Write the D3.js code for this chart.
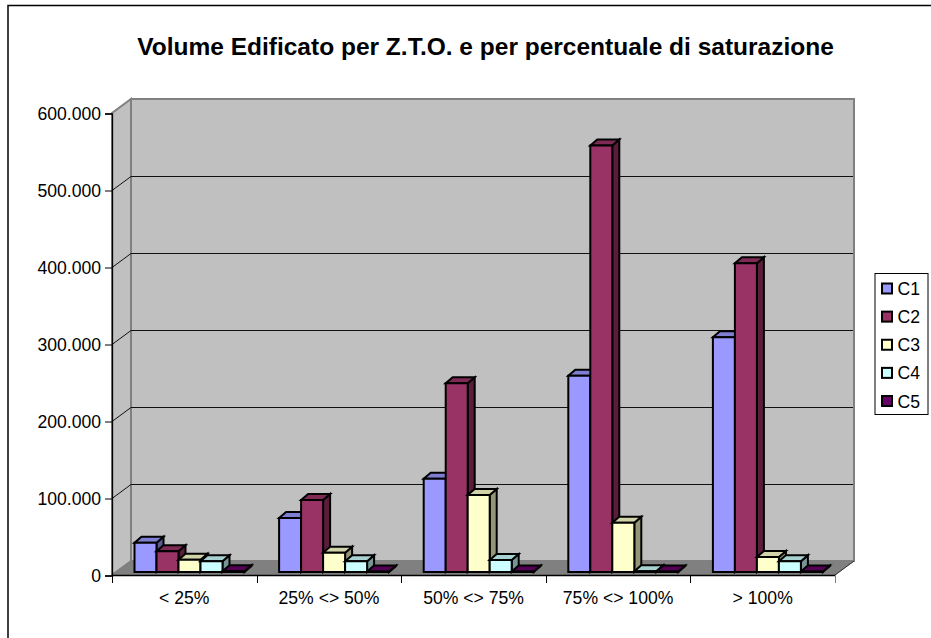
<!DOCTYPE html>
<html><head><meta charset="utf-8">
<script src="https://cdn.jsdelivr.net/npm/d3@7"></script>
<style>html,body{margin:0;padding:0;background:#fff;overflow:hidden}svg{display:block}text{font-family:"Liberation Sans",Arial,sans-serif;fill:#000}</style>
</head><body><svg id="c" width="931" height="638"></svg>
<script>
const titleText = "Volume Edificato per Z.T.O. e per percentuale di saturazione";
const categories = ["< 25%","25% <> 50%","50% <> 75%","75% <> 100%","> 100%"];
const seriesNames = ["C1","C2","C3","C4","C5"];
const seriesColors = ["#9999FF","#993366","#FFFFCC","#CCFFFF","#660066"];
const C1 = [38000,70000,121000,255000,305000];
const C2 = [27000,93500,245000,554000,401000];
const C3 = [16000,25000,100000,64000,19500];
const C4 = [14000,14000,15500,1000,14000];
const C5 = [1000,500,500,500,500];
const seriesValues = [C1,C2,C3,C4,C5];
const tickValues = [0,100000,200000,300000,400000,500000,600000];

const svg = d3.select("#c");
const L=112,R=835,Y0=575,Y600=113,DX=19,DY=14;
const x = d3.scaleBand().domain(categories).range([L,R]);
const y = d3.scaleLinear().domain([0,600000]).range([Y0,Y600]);
const fmt = d3.formatLocale({decimal:",",thousands:".",grouping:[3],currency:["",""]}).format(",d");
const FS = 17.6;

svg.append("path").attr("d","M8,638V5.5H931").attr("fill","none").attr("stroke","#000").attr("stroke-width",1.5);
svg.append("text").attr("x",485.5).attr("y",55).attr("text-anchor","middle").attr("font-size",24.5).attr("font-weight","bold").text(titleText);

const poly=(pts,fill,stroke,sw)=>svg.append("polygon").attr("points",pts.map(p=>p.join(",")).join(" ")).attr("fill",fill).attr("stroke",stroke||"none").attr("stroke-width",sw||1).attr("stroke-linejoin","miter");
// walls and floor
poly([[L,Y0],[L+DX,Y0-DY],[L+DX,Y600-DY],[L,Y600]],"#C0C0C0","#808080",2);
poly([[L+DX,Y0-DY],[R+DX,Y0-DY],[R+DX,Y600-DY],[L+DX,Y600-DY]],"#C0C0C0","#808080",2);
poly([[L,Y0],[R,Y0],[R+DX,Y0-DY],[L+DX,Y0-DY]],"#808080","#808080",1);
// gridlines
tickValues.slice(1,-1).forEach(t=>{
  svg.append("path").attr("fill","none").attr("stroke","#111").attr("stroke-width",1)
   .attr("d",`M${L},${y(t)+.5}L${L+DX},${y(t)-DY+.5}L${R+DX-1},${y(t)-DY+.5}`);
});
svg.append("path").attr("fill","none").attr("stroke","#333").attr("d",`M${R},${Y0}L${R+DX},${Y0-DY}`);
// axes
const yAxis = d3.axisLeft(y).tickValues(tickValues).tickFormat(fmt).tickSize(7).tickPadding(4);
const gy = svg.append("g").attr("transform",`translate(${L},0.5)`).call(yAxis);
gy.selectAll("text").attr("font-size",FS).attr("font-family",'"Liberation Sans",Arial,sans-serif');
gy.selectAll("path,line").attr("stroke","#000");
gy.select(".domain").attr("stroke-width",1.3);
const xAxis = d3.axisBottom(x).tickSize(0).tickPadding(17);
const gx = svg.append("g").attr("transform",`translate(0,${Y0})`).call(xAxis);
gx.selectAll("text").attr("font-size",FS).attr("font-family",'"Liberation Sans",Arial,sans-serif');
gx.select(".domain").attr("stroke","#000").attr("stroke-width",1.5);
d3.range(categories.length+1).forEach(i=>{
  const px = Math.round(L + i*x.bandwidth())+.5;
  svg.append("line").attr("x1",px).attr("x2",px).attr("y1",Y0).attr("y2",Y0+8).attr("stroke",i===categories.length?"#808080":"#000");
});
// bars
const inner = d3.scaleBand().domain(seriesNames).range([22.5,22.5+5*22]);
const baseShift = -3, dDX=7, dDY=6;
const shade=(c,k)=>d3.color(c).darker(k).formatHex();
categories.forEach((cat,i)=>{
  seriesNames.forEach((s,j)=>{
    const v = seriesValues[j][i];
    const x0 = x(cat)+inner(s), x1 = x0+inner.bandwidth();
    const yb = y(0)+baseShift, yt = yb-(y(0)-y(v));
    const g = [[x0,yt],[x0+dDX,yt-dDY],[x1+dDX,yt-dDY],[x1,yt]];
    poly([[x1,yb],[x1+dDX,yb-dDY],[x1+dDX,yt-dDY],[x1,yt]],shade(seriesColors[j],1.5),"#000",2);
    poly(g,shade(seriesColors[j],0.55),"#000",2);
    poly([[x0,yb],[x1,yb],[x1,yt],[x0,yt]],seriesColors[j],"#000",2);
  });
});
// legend
svg.append("rect").attr("x",875).attr("y",273.5).attr("width",53).attr("height",141).attr("fill","#fff").attr("stroke","#000");
const ly = d3.scalePoint().domain(seriesNames).range([288.5,401]);
seriesNames.forEach((s,j)=>{
  svg.append("rect").attr("x",882).attr("y",ly(s)-5).attr("width",10).attr("height",10).attr("fill",seriesColors[j]).attr("stroke","#000").attr("stroke-width",2);
  svg.append("text").attr("x",897.5).attr("y",ly(s)+6.5).attr("font-size",FS).text(s);
});
</script></body></html>
